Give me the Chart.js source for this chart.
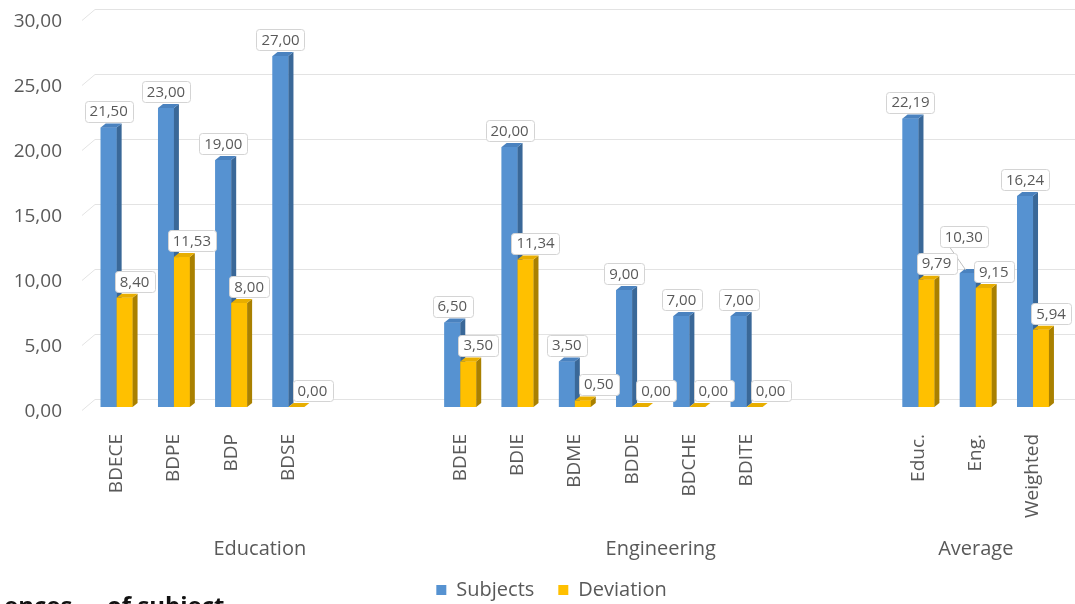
<!DOCTYPE html>
<html>
<head>
<meta charset="utf-8">
<title>Subjects and deviation</title>
<script src="https://cdn.jsdelivr.net/npm/chart.js"></script>
<style>
  html, body { margin: 0; padding: 0; background: #fff; overflow: hidden; }
  #wrap { position: relative; width: 1075px; height: 610px; }
</style>
</head>
<body>
<div id="wrap"><canvas id="subjectsChart"></canvas></div>
<script>
// empty labels keep the gaps between the three groups
const categories = ['BDECE', 'BDPE', 'BDP', 'BDSE', '', '', 'BDEE', 'BDIE', 'BDME', 'BDDE', 'BDCHE', 'BDITE', '', '', 'Educ.', 'Eng.', 'Weighted'];
const subjects = [21.5, 23, 19, 27, null, null, 6.5, 20, 3.5, 9, 7, 7, null, null, 22.19, 10.3, 16.24];
const deviation = [8.4, 11.53, 8, 0, null, null, 3.5, 11.34, 0.5, 0, 0, 0, null, null, 9.79, 9.15, 5.94];
const groupNames = ['Education', 'Engineering', 'Average'];
const groupRanges = [[0, 5], [6, 13], [14, 16]];
const yTicks = [0, 5, 10, 15, 20, 25, 30];

const FONT = "'Open Sans', sans-serif";
const TEXT = '#595959';
const fmt = v => v.toFixed(2).replace('.', ',');

const faces = [
  { front: '#5692d1', top: '#4a82bf', side: '#3a6898' },
  { front: '#ffc000', top: '#e8ae00', side: '#a98000' }
];
const DX = 5, DY = 4;

// back wall grid lines with the little slanted floor edge on the left,
// plus the value axis labels (drawn here so they are not clipped to the axis box)
const wallGrid = {
  id: 'wallGrid',
  beforeDatasetsDraw(chart) {
    const { ctx, chartArea, scales: { y } } = chart;
    ctx.save();
    ctx.strokeStyle = '#e3e3e3';
    ctx.lineWidth = 1;
    ctx.font = `19px ${FONT}`;
    ctx.fillStyle = TEXT;
    ctx.textAlign = 'right';
    ctx.textBaseline = 'middle';
    yTicks.forEach(v => {
      const py = Math.round(y.getPixelForValue(v)) + 0.5;
      ctx.beginPath();
      ctx.moveTo(chartArea.left - 6, py + 3);
      ctx.lineTo(chartArea.left + 7, py - 8);
      ctx.lineTo(chart.width, py - 8);
      ctx.stroke();
      ctx.fillText(fmt(v), chartArea.left - 26, py + 4);
    });
    ctx.restore();
  }
};

// extruded look: front face, top face and right side face for every bar
const bars3d = {
  id: 'bars3d',
  afterDatasetsDraw(chart) {
    const { ctx } = chart;
    ctx.save();
    chart.data.datasets.forEach((ds, di) => {
      const c = faces[di];
      chart.getDatasetMeta(di).data.forEach((el, i) => {
        if (ds.data[i] == null) return;
        const { x, y, base, width } = el.getProps(['x', 'y', 'base', 'width'], true);
        const x0 = x - width / 2, x1 = x + width / 2;
        ctx.fillStyle = c.front;
        ctx.fillRect(x0, y, width, base - y);
        ctx.fillStyle = c.side;
        ctx.beginPath();
        ctx.moveTo(x1, y);
        ctx.lineTo(x1 + DX, y - DY);
        ctx.lineTo(x1 + DX, base - DY);
        ctx.lineTo(x1, base);
        ctx.closePath();
        ctx.fill();
        ctx.fillStyle = c.top;
        ctx.beginPath();
        ctx.moveTo(x0, y);
        ctx.lineTo(x0 + DX, y - DY);
        ctx.lineTo(x1 + DX, y - DY);
        ctx.lineTo(x1, y);
        ctx.closePath();
        ctx.fill();
      });
    });
    ctx.restore();
  }
};

// boxed value labels above the bars
const valueLabels = {
  id: 'valueLabels',
  afterDatasetsDraw(chart, args, opts) {
    const { ctx } = chart;
    ctx.save();
    ctx.font = `15px ${FONT}`;
    ctx.textAlign = 'center';
    ctx.textBaseline = 'middle';
    chart.data.datasets.forEach((ds, di) => {
      chart.getDatasetMeta(di).data.forEach((el, i) => {
        const v = ds.data[i];
        if (v == null) return;
        const { x, y } = el.getProps(['x', 'y'], true);
        const txt = fmt(v);
        const nudge = opts.nudges.find(n => n.ds === di && n.index === i) || {};
        let dx = di === 0 ? 0 : (v < 1 ? 16 : 10);
        dx += nudge.dx || 0;
        const h = 21;
        const w = ctx.measureText(txt).width + 10;
        const cx = x + dx;
        const bottom = y - 6 + (nudge.dy || 0);
        const top = bottom - h;
        if (nudge.leader) {
          ctx.strokeStyle = '#bfbfbf';
          ctx.lineWidth = 1;
          ctx.beginPath();
          ctx.moveTo(cx - w / 2 + 10, bottom);
          ctx.lineTo(x - 2, y - 3);
          ctx.stroke();
        }
        ctx.fillStyle = '#fff';
        ctx.strokeStyle = '#d4d4d4';
        ctx.lineWidth = 1;
        ctx.beginPath();
        ctx.roundRect(Math.round(cx - w / 2) + 0.5, Math.round(top) + 0.5, Math.round(w), h, 3);
        ctx.fill();
        ctx.stroke();
        ctx.fillStyle = TEXT;
        ctx.fillText(txt, cx, top + h / 2 + 1);
      });
    });
    ctx.restore();
  }
};

// second row of the category axis: group names
const groupLabels = {
  id: 'groupLabels',
  afterDraw(chart) {
    const { ctx, chartArea, scales: { x } } = chart;
    const slot = x.getPixelForValue(1) - x.getPixelForValue(0);
    ctx.save();
    ctx.font = `20px ${FONT}`;
    ctx.fillStyle = TEXT;
    ctx.textAlign = 'center';
    ctx.textBaseline = 'middle';
    groupNames.forEach((name, g) => {
      const [a, b] = groupRanges[g];
      const left = x.getPixelForValue(a) - slot / 2;
      const right = x.getPixelForValue(b) + slot / 2;
      ctx.fillText(name, (left + right) / 2, chartArea.bottom + 142);
    });
    // caption line of the page, cut by the bottom edge
    ctx.font = `bold 24px ${FONT}`;
    ctx.fillStyle = '#111';
    ctx.textAlign = 'left';
    ctx.textBaseline = 'alphabetic';
    ctx.fillText('ences', 4, 614);
    ctx.fillText('of subject', 107, 614);
    ctx.restore();
  }
};

new Chart(document.getElementById('subjectsChart'), {
  type: 'bar',
  data: {
    labels: categories,
    datasets: [
      { label: 'Subjects', data: subjects, backgroundColor: faces[0].front, borderWidth: 0 },
      { label: 'Deviation', data: deviation, backgroundColor: faces[1].front, borderWidth: 0 }
    ]
  },
  options: {
    responsive: true,
    maintainAspectRatio: false,
    animation: false,
    // left padding centres the legend under the plot; the y axis width makes up for it
    layout: { padding: { top: 17, right: 6, bottom: 0, left: 34 } },
    datasets: {
      bar: { categoryPercentage: 0.556, barPercentage: 1 }
    },
    scales: {
      x: {
        grid: { display: false },
        border: { display: false },
        ticks: {
          autoSkip: false,
          minRotation: 90,
          maxRotation: 90,
          padding: 19,
          color: TEXT,
          font: { family: FONT, size: 19 }
        },
        afterFit: s => { s.height = 149; }
      },
      y: {
        min: 0,
        max: 30,
        grid: { display: false },
        border: { display: false },
        ticks: { display: false },
        afterBuildTicks: s => { s.ticks = yTicks.map(v => ({ value: v })); },
        afterFit: s => { s.width = 54; s.paddingTop = 0; s.paddingBottom = 0; }
      }
    },
    plugins: {
      legend: {
        position: 'bottom',
        labels: {
          boxWidth: 10,
          boxHeight: 10,
          padding: 24,
          color: TEXT,
          font: { family: FONT, size: 20 }
        }
      },
      tooltip: { enabled: false },
      valueLabels: {
        nudges: [{ ds: 0, index: 15, dx: -4, dy: -20, leader: true }]
      }
    }
  },
  plugins: [wallGrid, bars3d, valueLabels, groupLabels]
});
</script>
</body>
</html>
